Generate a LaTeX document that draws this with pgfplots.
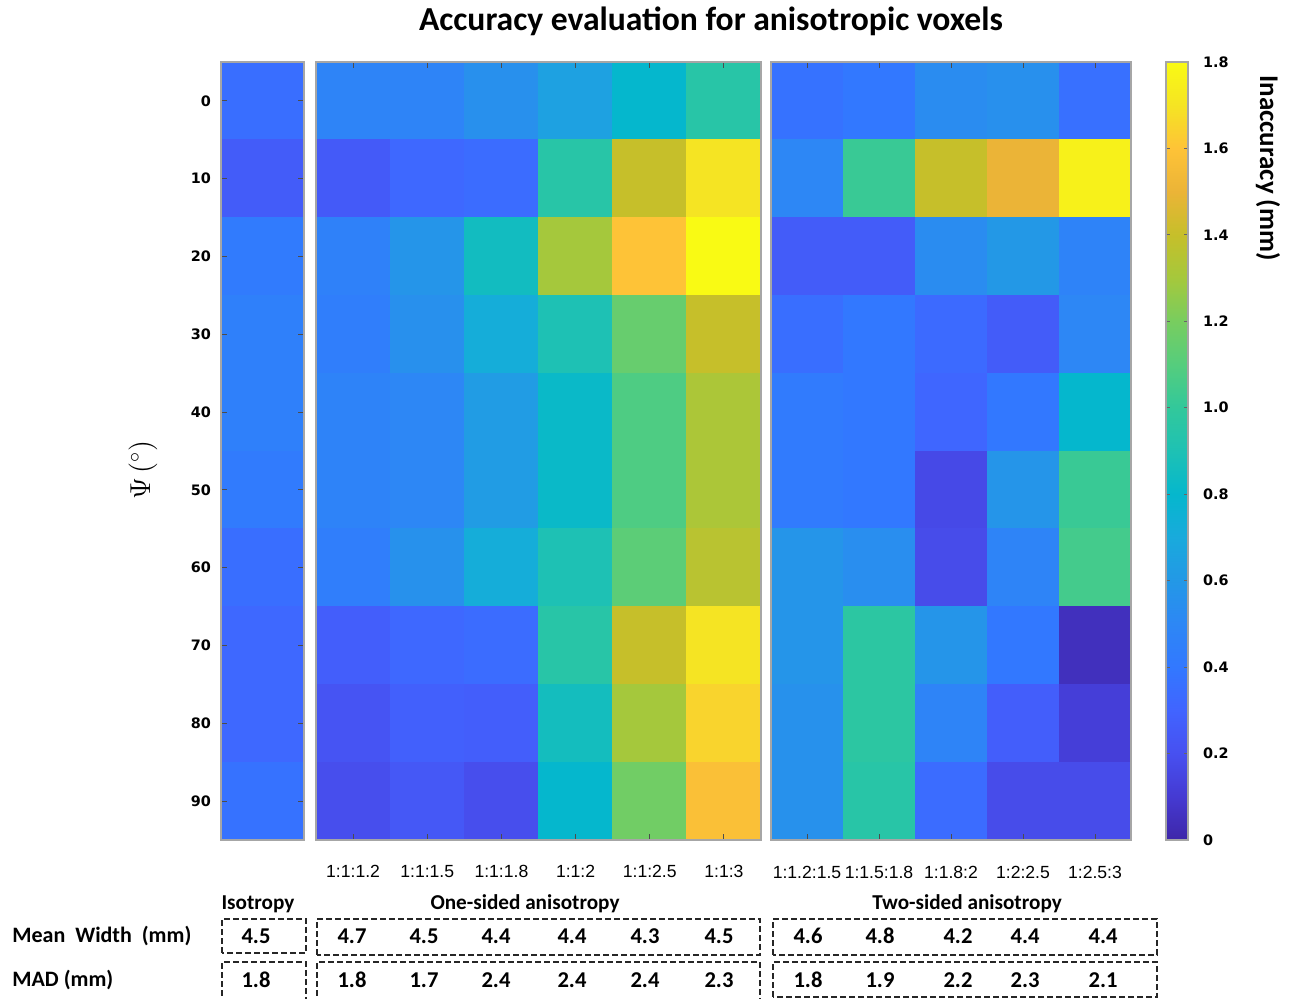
\documentclass[border=0pt]{standalone}
\usepackage{fontspec}
\setmainfont{Carlito}
\newfontfamily\tickfont{DejaVu Sans}
\newfontfamily\arialfont{Liberation Sans}
\usepackage{pgfplots}
\usepackage{pgfplotstable}
\pgfplotsset{compat=1.18}
\usepgfplotslibrary{patchplots}

\pgfplotsset{
  colormap={parula}{
    rgb255(0cm)=(62,38,168) rgb255(1cm)=(69,58,210) rgb255(2cm)=(71,80,240)
    rgb255(3cm)=(65,100,255) rgb255(4cm)=(50,120,255) rgb255(5cm)=(45,135,245)
    rgb255(6cm)=(35,152,230) rgb255(7cm)=(25,170,220) rgb255(8cm)=(5,183,205)
    rgb255(9cm)=(30,193,180) rgb255(10cm)=(50,200,155) rgb255(11cm)=(85,205,125)
    rgb255(12cm)=(120,205,95) rgb255(13cm)=(165,200,60) rgb255(14cm)=(198,191,42)
    rgb255(15cm)=(235,180,55) rgb255(16cm)=(254,195,55) rgb255(17cm)=(245,228,35)
    rgb255(18cm)=(249,250,20)
  },
  hm/.style={
    scale only axis, height=389pt, axis on top,
    y dir=reverse, ymin=-5, ymax=95,
    point meta min=0, point meta max=1.8, colormap name=parula,
    axis line style={draw=black!35, line width=0.6pt},
    tick style={draw=black!70, line width=0.5pt},
    major tick length=3pt, tick align=inside,
    /pgf/number format/assume math mode=true,
  },
}

% isotropy column: one rectangle (4 corners) per angle
\pgfplotstableread{
x y c
-0.5 -5 0.35
0.5 -5 0.35
0.5 5 0.35
-0.5 5 0.35
-0.5 5 0.26
0.5 5 0.26
0.5 15 0.26
-0.5 15 0.26
-0.5 15 0.42
0.5 15 0.42
0.5 25 0.42
-0.5 25 0.42
-0.5 25 0.45
0.5 25 0.45
0.5 35 0.45
-0.5 35 0.45
-0.5 35 0.45
0.5 35 0.45
0.5 45 0.45
-0.5 45 0.45
-0.5 45 0.42
0.5 45 0.42
0.5 55 0.42
-0.5 55 0.42
-0.5 55 0.35
0.5 55 0.35
0.5 65 0.35
-0.5 65 0.35
-0.5 65 0.32
0.5 65 0.32
0.5 75 0.32
-0.5 75 0.32
-0.5 75 0.32
0.5 75 0.32
0.5 85 0.32
-0.5 85 0.32
-0.5 85 0.37
0.5 85 0.37
0.5 95 0.37
-0.5 95 0.37
}\isotab

\pgfplotstableread{
x y c
0 0 0.48
1 0 0.48
2 0 0.55
3 0 0.65
4 0 0.80
5 0 0.95
0 10 0.25
1 10 0.32
2 10 0.34
3 10 0.95
4 10 1.40
5 10 1.70
0 20 0.46
1 20 0.58
2 20 0.85
3 20 1.30
4 20 1.60
5 20 1.80
0 30 0.44
1 30 0.55
2 30 0.72
3 30 0.90
4 30 1.15
5 30 1.40
0 40 0.47
1 40 0.50
2 40 0.62
3 40 0.82
4 40 1.08
5 40 1.32
0 50 0.47
1 50 0.50
2 50 0.62
3 50 0.82
4 50 1.08
5 50 1.32
0 60 0.44
1 60 0.56
2 60 0.72
3 60 0.90
4 60 1.12
5 60 1.36
0 70 0.27
1 70 0.32
2 70 0.34
3 70 0.95
4 70 1.40
5 70 1.70
0 80 0.22
1 80 0.28
2 80 0.27
3 80 0.86
4 80 1.30
5 80 1.65
0 90 0.19
1 90 0.24
2 90 0.19
3 90 0.80
4 90 1.18
5 90 1.58
}\onesided

\pgfplotstableread{
x y c
0 0 0.37
1 0 0.40
2 0 0.53
3 0 0.55
4 0 0.36
0 10 0.50
1 10 1.02
2 10 1.40
3 10 1.50
4 10 1.76
0 20 0.26
1 20 0.26
2 20 0.53
3 20 0.60
4 20 0.47
0 30 0.35
1 30 0.40
2 30 0.33
3 30 0.26
4 30 0.50
0 40 0.42
1 40 0.40
2 40 0.31
3 40 0.40
4 40 0.80
0 50 0.42
1 50 0.40
2 50 0.17
3 50 0.58
4 50 1.02
0 60 0.58
1 60 0.54
2 60 0.18
3 60 0.48
4 60 1.05
0 70 0.58
1 70 0.97
2 70 0.58
3 70 0.40
4 70 0.05
0 80 0.56
1 80 0.97
2 80 0.48
3 80 0.27
4 80 0.12
0 90 0.56
1 90 0.95
2 90 0.34
3 90 0.18
4 90 0.18
}\twosided

\begin{document}
\begin{tikzpicture}
\useasboundingbox (0,0) rectangle (647.5pt,499.5pt);

\node[font=\bfseries\fontsize{16.8}{18}\selectfont] at (355.5pt,489pt)
  {Accuracy evaluation for anisotropic voxels};

% isotropy
\begin{axis}[hm, at={(110.5pt,79.5pt)}, anchor=south west, width=41.5pt,
  xmin=-0.5, xmax=0.5, xtick=\empty,
  ytick={0,10,...,90},
  yticklabel style={font=\tickfont\bfseries\fontsize{7.2}{8}\selectfont, xshift=-1.5pt}]
\addplot[patch, patch type=rectangle, shader=flat, point meta=explicit]
  table[meta=c] {\isotab};
\end{axis}

% one-sided anisotropy
\begin{axis}[hm, at={(158pt,79.5pt)}, anchor=south west, width=222.5pt,
  xmin=-0.5, xmax=5.5, ytick=\empty,
  xtick={0,...,5},
  xticklabels={1:1:1.2,1:1:1.5,1:1:1.8,1:1:2,1:1:2.5,1:1:3},
  xticklabel style={font=\arialfont\fontsize{8.8}{10}\selectfont, anchor=base, yshift=-19pt}]
\addplot[matrix plot*, mesh/cols=6, point meta=explicit]
  table[meta=c] {\onesided};
\end{axis}

% two-sided anisotropy
\begin{axis}[hm, at={(385.5pt,79.5pt)}, anchor=south west, width=180pt,
  xmin=-0.5, xmax=4.5, ytick=\empty,
  xtick={0,...,4},
  xticklabels={1:1.2:1.5,1:1.5:1.8,1:1.8:2,1:2:2.5,1:2.5:3},
  xticklabel style={font=\arialfont\fontsize{8.8}{10}\selectfont, anchor=base, yshift=-19pt},
  colorbar,
  colorbar style={at={(parent axis.north east)}, anchor=north west, xshift=9pt,
    width=11pt,
    ytick={0,0.2,0.4,0.6,0.8,1.0,1.2,1.4,1.6,1.8},
    yticklabels={0,0.2,0.4,0.6,0.8,1.0,1.2,1.4,1.6,1.8},
    yticklabel style={font=\tickfont\bfseries\fontsize{7.2}{8}\selectfont, xshift=4pt},
    axis line style={draw=black!35, line width=0.6pt},
    tick style={draw=black!60, line width=0.4pt},
    major tick length=2pt, tick align=inside}]
\addplot[matrix plot*, mesh/cols=5, point meta=explicit]
  table[meta=c] {\twosided};
\end{axis}

\node[rotate=90, font=\fontsize{14}{14}\selectfont] at (71.5pt,264.5pt) {$\Psi\,(^{\circ})$};
\node[rotate=-90, font=\bfseries\fontsize{13.5}{14}\selectfont] at (634pt,415.5pt) {Inaccuracy (mm)};

% summary table below the maps
\begin{scope}[font=\bfseries\fontsize{10.6}{12}\selectfont]
\node at (129pt,47.5pt) {Isotropy};
\node at (262.5pt,47.5pt) {One-sided anisotropy};
\node at (483.5pt,47.5pt) {Two-sided anisotropy};
\end{scope}
\begin{scope}[font=\bfseries\fontsize{11}{12}\selectfont]
\node[anchor=west, inner sep=0pt] at (6pt,31.5pt) {Mean\ \ Width\ \ (mm)};
\node[anchor=west, inner sep=0pt] at (6pt,9.5pt) {MAD (mm)};
\end{scope}

\begin{scope}[font=\bfseries\fontsize{11.3}{12}\selectfont]
\foreach \x/\v in {128/4.5,176/4.7,212/4.5,248/4.4,286/4.4,322.5/4.3,359.5/4.5,
                   404/4.6,440/4.8,479/4.2,512.5/4.4,551.5/4.4}
  \node at (\x pt,31.5pt) {\v};
\foreach \x/\v in {128/1.8,176/1.8,212/1.7,248/2.4,286/2.4,322.5/2.4,359.5/2.3,
                   404/1.8,440/1.9,479/2.2,512.5/2.3,551.5/2.1}
  \node at (\x pt,9.5pt) {\v};
\end{scope}

\begin{scope}[draw=black!85, line width=1pt, dash pattern=on 3pt off 1.5pt]
\draw (111pt,23pt) rectangle (153pt,40pt);
\draw (158.5pt,22pt) rectangle (380pt,40pt);
\draw (386.5pt,22pt) rectangle (578.5pt,40pt);
\draw (111pt,-3pt) -- (111pt,18.5pt) -- (153pt,18.5pt) -- (153pt,-3pt);
\draw (158.5pt,-3pt) -- (158.5pt,18.5pt) -- (380pt,18.5pt) -- (380pt,-3pt);
\draw (386.5pt,1pt) rectangle (578.5pt,18.5pt);
\end{scope}
\end{tikzpicture}
\end{document}
